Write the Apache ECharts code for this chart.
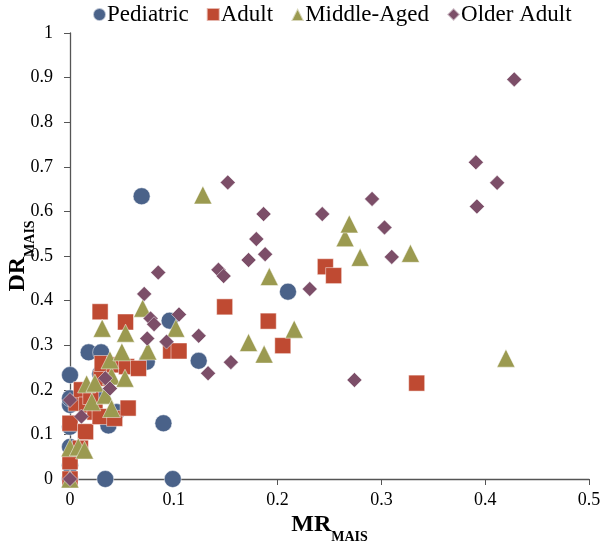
<!DOCTYPE html>
<html>
<head>
<meta charset="utf-8">
<script src="https://cdn.jsdelivr.net/npm/echarts@6/dist/echarts.min.js"></script>
<style>html,body{margin:0;padding:0;background:#fff;}#c{width:600px;height:546px;}</style>
</head>
<body>
<div id="c"></div>
<script>
const seriesNames = ['Pediatric', 'Adult', 'Middle-Aged', 'Older Adult'];
const xTicks = [0, 0.1, 0.2, 0.3, 0.4, 0.5];
const yTicks = [0, 0.1, 0.2, 0.3, 0.4, 0.5, 0.6, 0.7, 0.8, 0.9, 1];

const pediatric = [
  [0,0],[0,0.031],[0,0.072],[0,0.117],[0,0.166],[0,0.181],[0,0.233],
  [0.034,0],[0.099,0],[0.018,0.284],[0.030,0.284],[0.029,0.236],[0.026,0.19],
  [0.037,0.12],[0.045,0.15],[0.09,0.125],[0.096,0.355],[0.074,0.263],
  [0.124,0.265],[0.21,0.42],[0.069,0.634]
];
const adult = [
  [0,0],[0,0.039],[0,0.125],[0.006,0.17],[0.011,0.2],[0.015,0.106],[0.016,0.166],
  [0.01,0.069],[0.02,0.185],[0.024,0.15],[0.029,0.14],[0.043,0.136],[0.056,0.159],
  [0.030,0.226],[0.031,0.259],[0.043,0.256],[0.0545,0.252],[0.066,0.248],
  [0.029,0.375],[0.0535,0.352],[0.097,0.287],[0.105,0.287],[0.149,0.386],
  [0.191,0.354],[0.205,0.299],[0.246,0.476],[0.254,0.456],[0.334,0.215]
];
const middleAged = [
  [0,0],[0,0.07],[0.008,0.072],[0.014,0.065],[0.016,0.213],[0.024,0.215],
  [0.021,0.173],[0.034,0.188],[0.040,0.158],[0.040,0.231],[0.053,0.226],
  [0.0385,0.267],[0.031,0.338],[0.050,0.285],[0.0535,0.327],[0.070,0.383],
  [0.075,0.287],[0.102,0.338],[0.128,0.637],[0.172,0.306],[0.187,0.280],
  [0.192,0.454],[0.216,0.336],[0.265,0.541],[0.269,0.572],[0.2795,0.497],
  [0.328,0.506],[0.420,0.271]
];
const olderAdult = [
  [0,0],[0,0.177],[0.011,0.14],[0.034,0.226],[0.0385,0.203],[0.0715,0.415],
  [0.0776,0.360],[0.081,0.347],[0.0744,0.315],[0.085,0.463],[0.093,0.308],
  [0.105,0.369],[0.124,0.321],[0.133,0.237],[0.143,0.469],[0.148,0.455],
  [0.152,0.665],[0.155,0.262],[0.172,0.491],[0.1795,0.538],[0.188,0.504],
  [0.1865,0.594],[0.231,0.426],[0.243,0.594],[0.274,0.222],[0.291,0.628],
  [0.303,0.564],[0.310,0.498],[0.391,0.710],[0.392,0.611],[0.4115,0.664],
  [0.428,0.896]
];

const colors = ['#4a6289', '#bf4a32', '#9b9a50', '#7c4e68'];
const symbols = ['circle', 'rect', 'triangle', 'diamond'];
const sizes = [17, 16, 18, 15];
const dataSets = [pediatric, adult, middleAged, olderAdult];
const FONT = '"Liberation Serif", "Times New Roman", serif';

const nameRich = {
  b: {fontFamily: FONT, fontSize: 24, fontWeight: 'bold', color: '#000', lineHeight: 24, verticalAlign: 'bottom'},
  s: {fontFamily: FONT, fontSize: 14, fontWeight: 'bold', color: '#000', lineHeight: 12, verticalAlign: 'bottom', padding: [0,0,-7,0]}
};

const chart = echarts.init(document.getElementById('c'), null, {renderer: 'canvas'});
chart.setOption({
  animation: false,
  backgroundColor: '#fff',
  legend: {
    top: -2,
    left: 87,
    itemGap: 17,
    itemWidth: 13,
    itemHeight: 13,
    textStyle: {fontFamily: FONT, fontSize: 23, color: '#000', padding: [0,0,0,-4]},
    data: seriesNames.map((n, i) => ({name: n, icon: symbols[i]}))
  },
  grid: {left: 70, right: 11, top: 33, bottom: 67, containLabel: false, outerBoundsMode: 'none'},
  xAxis: {
    type: 'value', min: 0, max: 0.5, interval: 0.1,
    axisLine: {show: true, onZero: false, lineStyle: {color: '#555', width: 1.3}},
    axisTick: {show: true, inside: false, length: 6, lineStyle: {color: '#555'}},
    splitLine: {show: false},
    axisLabel: {fontFamily: FONT, fontSize: 18, color: '#000', margin: 12,
      formatter: v => xTicks.includes(+v.toFixed(2)) ? String(+v.toFixed(2)) : ''},
    name: '{b|MR}{s|MAIS}',
    nameLocation: 'middle',
    nameGap: 34,
    nameMoveOverlap: false,
    nameTextStyle: {rich: nameRich}
  },
  yAxis: {
    type: 'value', min: 0, max: 1, interval: 0.1,
    axisLine: {show: true, onZero: false, lineStyle: {color: '#555', width: 1.3}},
    axisTick: {show: true, inside: false, length: 6, lineStyle: {color: '#555'}},
    splitLine: {show: false},
    axisLabel: {fontFamily: FONT, fontSize: 18, color: '#000', margin: 17,
      formatter: v => yTicks.includes(+v.toFixed(2)) ? String(+v.toFixed(2)) : ''},
    name: '{b|DR}{s|MAIS}',
    nameLocation: 'middle',
    nameGap: 40,
    nameRotate: 90,
    nameMoveOverlap: false,
    nameTextStyle: {rich: nameRich}
  },
  series: dataSets.map((d, i) => ({
    name: seriesNames[i],
    type: 'scatter',
    symbol: symbols[i],
    symbolSize: sizes[i],
    data: d,
    itemStyle: {color: colors[i], borderColor: 'rgba(255,255,255,0.6)', borderWidth: 0.8, opacity: 1}
  }))
});
</script>
</body>
</html>
